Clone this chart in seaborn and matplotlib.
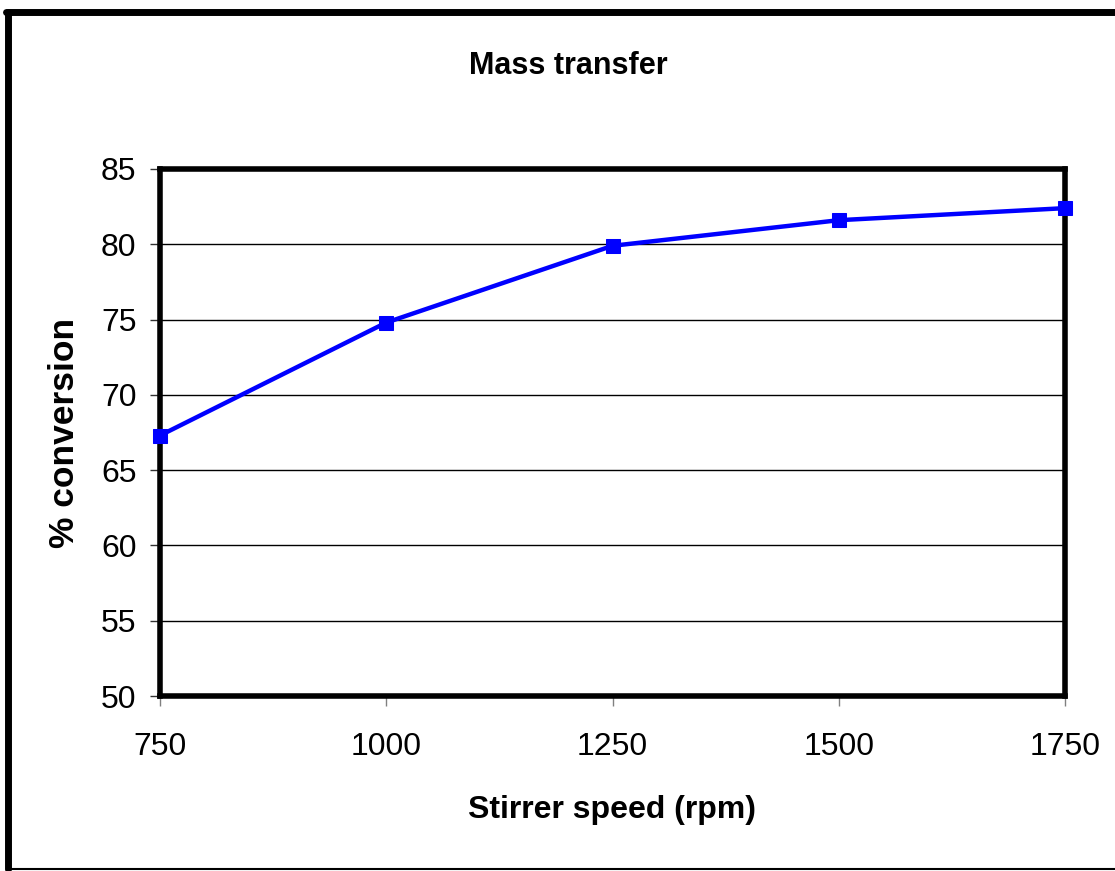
import matplotlib
matplotlib.use("Agg")
import matplotlib.pyplot as plt
from matplotlib.lines import Line2D
import seaborn as sns
import pandas as pd

speed = [750, 1000, 1250, 1500, 1750]
conversion = [67.3, 74.8, 79.9, 81.6, 82.4]
x_ticks = [750, 1000, 1250, 1500, 1750]
y_ticks = [50, 55, 60, 65, 70, 75, 80, 85]

sns.set_theme(style="white")
plt.rcParams['font.family'] = ['Liberation Sans', 'DejaVu Sans']

df = pd.DataFrame({"speed": speed, "conversion": conversion})

fig = plt.figure(figsize=(11.15, 8.71), dpi=100)
ax = fig.add_axes([160/1115, 175/871, 905/1115, 527/871])

for yv in y_ticks[1:-1]:
    ax.axhline(yv, color="black", lw=1.0, zorder=1)

sns.lineplot(data=df, x="speed", y="conversion", ax=ax, color="#0000FF",
             lw=3.2, marker="s", markersize=10, markeredgecolor="#0000FF",
             zorder=3, clip_on=False)

ax.set_xlim(750, 1750)
ax.set_ylim(50, 85)
ax.set_xticks(x_ticks)
ax.set_yticks(y_ticks)
ax.tick_params(axis="both", colors="black", direction="out", length=7, width=1,
               labelsize=23)
ax.tick_params(axis="x", pad=19, color="grey")
ax.tick_params(axis="y", pad=10, color="#333333")
ax.xaxis.set_ticks_position("bottom")
ax.yaxis.set_ticks_position("left")

for s in ax.spines.values():
    s.set_linewidth(4)
    s.set_color("black")
    s.set_visible(True)
    s.set_zorder(2)

ax.set_xlabel("Stirrer speed (rpm)", fontsize=23, fontweight="bold", labelpad=24,
              color="black")
ax.set_ylabel("% conversion", fontsize=25.5, fontweight="bold", labelpad=14,
              color="black")
fig.text(568/1115, 1 - 66/871, "Mass transfer", fontsize=22, fontweight="bold",
         ha="center", va="center", color="black")

# figure frame
fig.add_artist(Line2D([8/1115, 8/1115], [2/871, 1 - 12/871], transform=fig.transFigure,
                      color="black", lw=5))
fig.add_artist(Line2D([6/1115, 1], [1 - 12/871, 1 - 12/871], transform=fig.transFigure,
                      color="black", lw=5))
fig.add_artist(Line2D([8/1115, 1], [2/871, 2/871], transform=fig.transFigure,
                      color="black", lw=1.5))

fig.savefig("out.png", dpi=100)
